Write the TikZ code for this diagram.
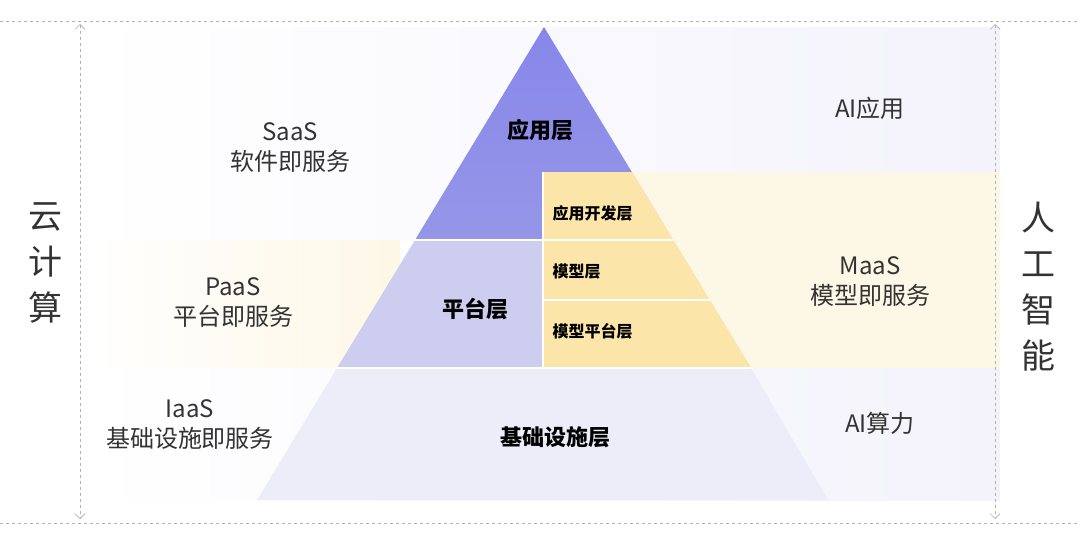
\documentclass[tikz,border=0pt]{standalone}
\usepackage{fontspec}
\setmainfont{Noto Sans CJK SC}
\usetikzlibrary{arrows.meta}
\definecolor{txt}{HTML}{333333}
\definecolor{app}{HTML}{9696E8}
\definecolor{plat}{HTML}{CDCDF0}
\definecolor{base}{HTML}{EDEDFA}
\definecolor{yel}{HTML}{FCE5A8}
\definecolor{lav}{HTML}{F4F3FC}
\definecolor{ylt}{HTML}{FDF7E6}
\begin{document}
\begin{tikzpicture}[x=1pt,y=-1pt,
  side/.style={font=\fontsize{24}{30}\selectfont, text=txt, align=center},
  lay/.style={font=\fontsize{22}{26}\selectfont\bfseries, text=black},
  sub/.style={font=\fontsize{16}{20}\selectfont\bfseries, text=black, anchor=west},
  big/.style={font=\fontsize{34}{46}\selectfont, text=txt, align=center},
  gline/.style={gray!60, dashed, line width=0.7pt}]
\useasboundingbox (0,0) rectangle (1080,546);
\fill[white] (0,0) rectangle (1080,546);
% background bands
\shade[left color=white, right color=lav] (85,27) rectangle (1000,240);
\shade[left color=white, right color=ylt] (85,240) rectangle (400,368);
\fill[ylt] (620,172) rectangle (1000,368);
\shade[left color=white, right color=lav] (85,368) rectangle (1000,500);
% pyramid
\fill[base] (337,368) -- (751,368) -- (828,500) -- (257,500) -- cycle;
\fill[plat] (415,240) -- (673,240) -- (751,368) -- (337,368) -- cycle;
\shade[top color=app!90!blue, bottom color=app] (544,27) -- (673,240) -- (415,240) -- cycle;
\fill[yel] (543,172) -- (632,172) -- (751,368) -- (543,368) -- cycle;
\draw[white, line width=1.2pt] (415,240) -- (673,240) (337,368) -- (751,368)
  (543,172) -- (543,368) (543,300) -- (711,300);
% dashed frame lines
\coordinate (tl) at (0,21); \coordinate (tr) at (1080,21);
\coordinate (bl) at (0,523); \coordinate (br) at (1080,523);
\draw[gline] (tl) -- (tr); \draw[gline] (bl) -- (br);
\coordinate (la) at (80,24); \coordinate (lb) at (80,519);
\coordinate (ra) at (995,24); \coordinate (rb) at (995,519);
\draw[gline, {Straight Barb[length=5pt]}-{Straight Barb[length=5pt]}] (la) -- (lb);
\draw[gline, {Straight Barb[length=5pt]}-{Straight Barb[length=5pt]}] (ra) -- (rb);
% side labels
\node[big] (cc) at (45,263) {云\\计\\算};
\node[big] (ai) at (1038,287) {人\\工\\智\\能};
\node[side] (saas) at (290,148) {SaaS\\软件即服务};
\node[side] (paas) at (233,303) {PaaS\\平台即服务};
\node[side] (iaas) at (190,425) {IaaS\\基础设施即服务};
\node[side] (aiapp) at (870,108) {AI应用};
\node[side] (maas) at (870,282) {MaaS\\模型即服务};
\node[side] (aicp) at (880,423) {AI算力};
% layer labels
\node[lay] (l1) at (540,130) {应用层};
\node[lay] (l2) at (475,309) {平台层};
\node[lay] (l3) at (555,437) {基础设施层};
\node[sub] (s1) at (549,213) {应用开发层};
\node[sub] (s2) at (549,272) {模型层};
\node[sub] (s3) at (549,331) {模型平台层};
\end{tikzpicture}
\end{document}
